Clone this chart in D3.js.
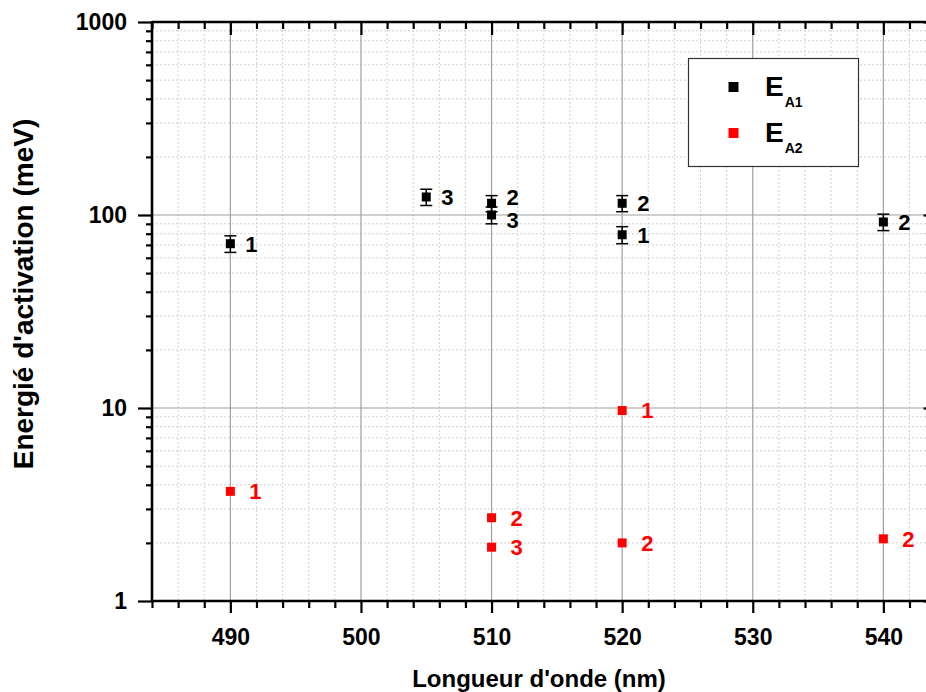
<!DOCTYPE html>
<html><head><meta charset="utf-8">
<script src="https://cdn.jsdelivr.net/npm/d3@7"></script>
<style>
html,body{margin:0;padding:0;background:#fff;overflow:hidden;}
text{font-family:"Liberation Sans",Arial,sans-serif;font-weight:bold;}
</style></head>
<body>
<svg id="chart" width="926" height="692"></svg>
<script>
// ---- data ----
const wavelengthsA1 = [490, 505, 510, 510, 520, 520, 540];
const valuesA1      = [71, 124, 115, 100, 115, 79, 92];
const errorsA1      = [7, 12, 11, 10, 11, 8, 9];
const labelsA1      = ["1", "3", "2", "3", "2", "1", "2"];

const wavelengthsA2 = [490, 510, 510, 520, 520, 540];
const valuesA2      = [3.7, 2.7, 1.9, 9.7, 2.0, 2.1];
const labelsA2      = ["1", "2", "3", "1", "2", "2"];

const xTicks = [490, 500, 510, 520, 530, 540];
const yTicks = [1, 10, 100, 1000];
const seriesNames = ["A1", "A2"];
const xTitle = "Longueur d'onde (nm)";
const yTitle = "Energié d'activation (meV)";

// ---- layout ----
const svg = d3.select("#chart");
const pLeft = 152, pTop = 22, pBottom = 601;
const pxPerNm = 13.06;
const xDomain = [484, 544];
const pRight = pLeft + (xDomain[1] - xDomain[0]) * pxPerNm;

const x = d3.scaleLinear().domain(xDomain).range([pLeft, pRight]);
const y = d3.scaleLog().domain([1, 1000]).range([pBottom, pTop]);

const minorX = d3.range(xDomain[0], xDomain[1] + 0.001, 2).filter(v => v % 10 !== 0);
const minorY = [];
[1, 10, 100].forEach(d => { for (let k = 2; k <= 9; k++) minorY.push(d * k); });

// ---- grid ----
const grid = svg.append("g");
grid.selectAll(".mgx").data(minorX).join("line")
  .attr("x1", d => x(d)).attr("x2", d => x(d)).attr("y1", pTop).attr("y2", pBottom)
  .attr("stroke", "#d0d0d0").attr("stroke-width", 1).attr("stroke-dasharray", "2,2");
grid.selectAll(".mgy").data(minorY).join("line")
  .attr("x1", pLeft).attr("x2", pRight).attr("y1", d => y(d)).attr("y2", d => y(d))
  .attr("stroke", "#d0d0d0").attr("stroke-width", 1).attr("stroke-dasharray", "2,2");
grid.selectAll(".Mgx").data(xTicks).join("line")
  .attr("x1", d => x(d)).attr("x2", d => x(d)).attr("y1", pTop).attr("y2", pBottom)
  .attr("stroke", "#a0a0a0").attr("stroke-width", 1.2);
grid.selectAll(".Mgy").data([10, 100]).join("line")
  .attr("x1", pLeft).attr("x2", pRight).attr("y1", d => y(d)).attr("y2", d => y(d))
  .attr("stroke", "#a0a0a0").attr("stroke-width", 1.2);

// ---- axes ----
function styleAxis(g) {
  g.select(".domain").remove();
  g.selectAll(".tick line").attr("stroke", "#000").attr("stroke-width", 2.2);
  g.selectAll("text").attr("fill", "#000").attr("font-size", 23).attr("font-weight", "bold");
}
// bottom
svg.append("g").attr("transform", `translate(0,${pBottom})`)
  .call(d3.axisBottom(x).tickValues(xTicks).tickSize(12).tickPadding(16).tickFormat(d3.format("d")))
  .call(styleAxis);
svg.append("g").attr("transform", `translate(0,${pBottom})`)
  .call(d3.axisBottom(x).tickValues(minorX).tickSize(7).tickFormat(""))
  .call(styleAxis);
// top (inward)
svg.append("g").attr("transform", `translate(0,${pTop})`)
  .call(d3.axisBottom(x).tickValues(xTicks).tickSize(13).tickFormat(""))
  .call(styleAxis);
svg.append("g").attr("transform", `translate(0,${pTop})`)
  .call(d3.axisBottom(x).tickValues(minorX).tickSize(7).tickFormat(""))
  .call(styleAxis);
// left
svg.append("g").attr("transform", `translate(${pLeft},0)`)
  .call(d3.axisLeft(y).tickValues(yTicks).tickSize(14).tickPadding(11).tickFormat(d3.format("d")))
  .call(styleAxis);
svg.append("g").attr("transform", `translate(${pLeft},0)`)
  .call(d3.axisLeft(y).tickValues(minorY).tickSize(6).tickFormat(""))
  .call(styleAxis);
// right (inward)
svg.append("g").attr("transform", `translate(${pRight},0)`)
  .call(d3.axisLeft(y).tickValues(yTicks).tickSize(12).tickFormat(""))
  .call(styleAxis);
svg.append("g").attr("transform", `translate(${pRight},0)`)
  .call(d3.axisLeft(y).tickValues(minorY).tickSize(6).tickFormat(""))
  .call(styleAxis);

// frame lines
const frame = svg.append("g").attr("stroke", "#000").attr("stroke-width", 2.6);
frame.append("line").attr("x1", pLeft).attr("x2", pRight).attr("y1", pTop).attr("y2", pTop);
frame.append("line").attr("x1", pLeft).attr("x2", pRight).attr("y1", pBottom).attr("y2", pBottom);
frame.append("line").attr("x1", pLeft).attr("x2", pLeft).attr("y1", pTop - 1).attr("y2", pBottom + 1);
frame.append("line").attr("x1", pRight).attr("x2", pRight).attr("y1", pTop - 1).attr("y2", pBottom + 1);

// ---- label placement helper (spread labels that share a wavelength) ----
function labelYs(xs, vs, minGap) {
  const ys = vs.map(v => y(v));
  const out = ys.slice();
  xs.forEach((xv, i) => {
    xs.forEach((xw, j) => {
      if (j > i && xw === xv && Math.abs(ys[i] - ys[j]) < minGap) {
        const mid = (ys[i] + ys[j]) / 2;
        const hi = ys[i] < ys[j] ? i : j, lo = hi === i ? j : i;
        out[hi] = mid - minGap / 2 - 1;
        out[lo] = mid + minGap / 2 - 1;
      }
    });
  });
  return out;
}

// ---- series A1 (black, with error bars) ----
const dA1 = wavelengthsA1.map((w, i) => ({w, v: valuesA1[i], e: errorsA1[i], l: labelsA1[i]}));
const gA1 = svg.append("g");
const eb = gA1.selectAll(".eb").data(dA1).join("g").attr("stroke", "#000").attr("stroke-width", 1.5);
eb.append("line").attr("x1", d => x(d.w)).attr("x2", d => x(d.w))
  .attr("y1", d => y(d.v + d.e)).attr("y2", d => y(d.v - d.e));
eb.append("line").attr("x1", d => x(d.w) - 6).attr("x2", d => x(d.w) + 6)
  .attr("y1", d => y(d.v + d.e)).attr("y2", d => y(d.v + d.e));
eb.append("line").attr("x1", d => x(d.w) - 6).attr("x2", d => x(d.w) + 6)
  .attr("y1", d => y(d.v - d.e)).attr("y2", d => y(d.v - d.e));
gA1.selectAll(".pt").data(dA1).join("rect")
  .attr("x", d => x(d.w) - 4.5).attr("y", d => y(d.v) - 4.5)
  .attr("width", 9).attr("height", 9).attr("fill", "#000");
const lyA1 = labelYs(wavelengthsA1, valuesA1, 23);
gA1.selectAll(".lb").data(dA1).join("text")
  .attr("x", d => x(d.w) + 15).attr("y", (d, i) => lyA1[i])
  .attr("dy", "0.36em").attr("font-size", 22).attr("fill", "#000").text(d => d.l);

// ---- series A2 (red) ----
const dA2 = wavelengthsA2.map((w, i) => ({w, v: valuesA2[i], l: labelsA2[i]}));
const gA2 = svg.append("g");
gA2.selectAll(".pt").data(dA2).join("rect")
  .attr("x", d => x(d.w) - 4.5).attr("y", d => y(d.v) - 4.5)
  .attr("width", 9).attr("height", 9).attr("fill", "#ff0000");
const lyA2 = labelYs(wavelengthsA2, valuesA2, 23);
gA2.selectAll(".lb").data(dA2).join("text")
  .attr("x", d => x(d.w) + 19).attr("y", (d, i) => lyA2[i])
  .attr("dy", "0.36em").attr("font-size", 22).attr("fill", "#ff0000").text(d => d.l);

// ---- legend ----
const lg = svg.append("g");
lg.append("rect").attr("x", 688.5).attr("y", 58.5).attr("width", 170).attr("height", 108)
  .attr("fill", "#fff").attr("stroke", "#333").attr("stroke-width", 1.2);
const legColors = ["#000", "#ff0000"];
seriesNames.forEach((s, i) => {
  const cy = 87 + i * 46;
  lg.append("rect").attr("x", 728.5).attr("y", cy - 5).attr("width", 10).attr("height", 10).attr("fill", legColors[i]);
  const t = lg.append("text").attr("x", 765).attr("y", cy + 9).attr("font-size", 28).attr("fill", "#000");
  t.append("tspan").text("E");
  t.append("tspan").attr("dy", 11).attr("dx", 1).attr("font-size", 14).text(s);
});

// ---- titles ----
svg.append("text").attr("x", 539).attr("y", 687).attr("text-anchor", "middle")
  .attr("font-size", 24).attr("fill", "#000").text(xTitle);
svg.append("text").attr("transform", "translate(33,294) rotate(-90)").attr("text-anchor", "middle")
  .attr("font-size", 28).attr("fill", "#000").text(yTitle);
</script>
</body></html>
